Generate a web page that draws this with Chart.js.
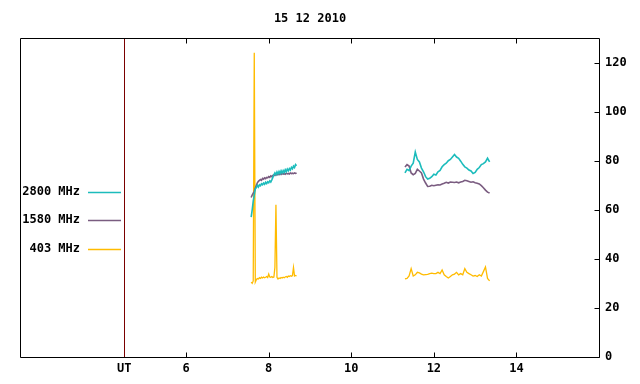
<!DOCTYPE html>
<html><head><meta charset="utf-8">
<script src="https://cdn.jsdelivr.net/npm/chart.js@4/dist/chart.umd.min.js"></script>
<style>html,body{margin:0;padding:0;background:#fff}</style>
</head><body>
<canvas id="c" width="640" height="384"></canvas>
<script>
// ---- data (hours UT, flux values) ----
const titleText = '15 12 2010';
const seriesLabels = ['2800 MHz', '1580 MHz', '403 MHz'];
const hourTicks = [6, 8, 10, 12, 14];
const utHour = 4.5;
const utLabel = 'UT';
const yTicks = [0, 20, 40, 60, 80, 100, 120];

const t1 = [7.575,7.600,7.625,7.650,7.675,7.700,7.725,7.750,7.775,7.800,7.825,7.850,7.875,7.900,7.925,7.950,7.975,8.000,8.025,8.050,8.075,8.100,8.125,8.150,8.175,8.200,8.225,8.250,8.275,8.300,8.325,8.350,8.375,8.400,8.425,8.450,8.475,8.500,8.525,8.550,8.575,8.600,8.625,8.650,8.675];
const t2 = [11.30,11.35,11.40,11.45,11.50,11.55,11.60,11.65,11.70,11.75,11.80,11.85,11.90,11.95,12.00,12.05,12.10,12.15,12.20,12.25,12.30,12.35,12.40,12.45,12.50,12.55,12.60,12.65,12.70,12.75,12.80,12.85,12.90,12.95,13.00,13.05,13.10,13.15,13.20,13.25,13.30,13.35];

const mhz2800a = [57,60,63.5,66,68.5,69,70,69.3,70.2,69.8,70.6,70.2,70.9,70.4,71.2,70.7,71.4,71,71.8,71.3,72.2,73.2,74.2,75,74.3,75.4,74.6,75.6,74.8,75.9,75,76,75.2,76.3,75.5,76.6,75.9,76.8,76.2,77.3,76.7,77.8,77.2,78.4,77.9];
const mhz2800b = [75,76.5,76,77.8,79,83.5,80.5,79.5,77,75.5,73.5,72.5,72.8,73.5,74.5,74.2,75.5,76,77.5,78.4,79,80,80.5,81.5,82.5,81.5,81,79.8,78.5,77.5,77,76.2,75.8,74.8,75.2,76.5,77.2,78.4,78.8,79.5,81,79.5];

const mhz1580a = [65,66,66.8,67.5,68.8,70,71,71.6,72,72.3,72,72.8,72.5,73,72.7,73.2,73,73.5,73.2,73.8,73.5,74,74.2,74,74.5,74.2,74.6,74.3,74.7,74.4,74.8,74.5,74.7,74.5,74.9,74.6,74.8,74.6,75,74.7,74.9,74.7,75,74.8,75];
const mhz1580b = [77.4,78.4,77.8,75,74.3,74.8,76.5,75.8,75,72.5,70.9,69.5,69.6,70,69.8,70,70.2,70.1,70.5,70.8,71.2,70.9,71.3,71.2,71.1,71.3,71,71.3,71.5,72,71.8,71.5,71.2,71.4,71,70.8,70.5,69.8,69,68,67.2,66.8];

const mhz403a = [30.5,30,31,124,30.5,31.5,32,31.8,32.3,32,32.5,32.2,32.6,32.3,32.5,32.8,32.4,33.8,32.6,32.5,32.8,32.4,32.6,36.5,62,32.5,31.8,32.2,32,32.4,32.2,32.5,32.3,32.6,32.8,32.5,33,32.8,33.1,32.9,33.2,36.5,33,33.2,33];
const mhz403b = [31.8,32,33,36,33,33.5,34.5,34.3,33.8,33.5,33.6,33.7,34,34.2,34,34,34.5,34,35.5,33.5,32.8,32.2,32.8,33.5,33.8,34.5,33.5,34,33.5,36,34.5,34,33.5,33,33.2,32.8,33.5,33,34.8,36.7,32,31];

const colors = ['#1cbcbc', '#7a5c80', '#ffbb00'];
const widths = [1.6, 1.6, 1.3];

// ---- build point lists (gap between the two observing runs) ----
function seg(times, vals) { return times.map((t, i) => ({x: t, y: vals[i]})); }
function joined(a, b) { return [...seg(t1, a), {x: 10, y: null}, ...seg(t2, b)]; }

const FONT = {family: "'DejaVu Sans Mono', 'Liberation Mono', monospace", size: 12, weight: 'bold'};
const FONT_CSS = "bold 12px 'DejaVu Sans Mono', 'Liberation Mono', monospace";

const framePlugin = {
  id: 'frame',
  afterDraw(chart) {
    const {ctx, chartArea: a, scales: {x, y}} = chart;
    ctx.save();
    ctx.lineWidth = 1;
    // UT marker line
    const ux = Math.round(x.getPixelForValue(utHour)) + 0.5;
    ctx.strokeStyle = '#7a0000';
    ctx.beginPath(); ctx.moveTo(ux, a.top); ctx.lineTo(ux, a.bottom); ctx.stroke();
    // frame
    ctx.strokeStyle = '#000';
    const L = a.left - 0.5, R = a.right + 0.5, T = a.top + 0.5, B = a.bottom + 0.5;
    ctx.beginPath();
    ctx.moveTo(L, T); ctx.lineTo(R, T); ctx.lineTo(R, B); ctx.lineTo(L, B); ctx.closePath();
    ctx.stroke();
    // inward ticks
    ctx.beginPath();
    hourTicks.forEach(v => {
      const px = Math.round(x.getPixelForValue(v)) + 0.5;
      ctx.moveTo(px, T); ctx.lineTo(px, T + 5);
      ctx.moveTo(px, B); ctx.lineTo(px, B - 5);
    });
    yTicks.forEach(v => {
      const py = Math.round(y.getPixelForValue(v)) + 0.5;
      ctx.moveTo(R, py); ctx.lineTo(R - 5, py);
    });
    ctx.stroke();
    // legend (left side, inside frame)
    const rows = [191.5, 219.5, 248.5];
    ctx.font = FONT_CSS;
    ctx.fillStyle = '#000';
    ctx.textAlign = 'right';
    ctx.textBaseline = 'middle';
    chart.data.datasets.forEach((ds, i) => {
      const yy = rows[i];
      ctx.fillText(ds.label, 80, yy);
      ctx.strokeStyle = ds.borderColor;
      ctx.lineWidth = 1.3;
      ctx.beginPath(); ctx.moveTo(88, Math.round(yy) + 0.5); ctx.lineTo(121, Math.round(yy) + 0.5); ctx.stroke();
    });
    ctx.restore();
  }
};

new Chart(document.getElementById('c'), {
  type: 'line',
  data: {
    datasets: [
      {label: seriesLabels[0], data: joined(mhz2800a, mhz2800b), borderColor: colors[0], borderWidth: widths[0]},
      {label: seriesLabels[1], data: joined(mhz1580a, mhz1580b), borderColor: colors[1], borderWidth: widths[1]},
      {label: seriesLabels[2], data: joined(mhz403a, mhz403b), borderColor: colors[2], borderWidth: widths[2]}
    ].map(d => Object.assign(d, {pointRadius: 0, fill: false, spanGaps: false, tension: 0}))
  },
  options: {
    responsive: false,
    animation: false,
    events: [],
    layout: {padding: {left: 21, right: 0, top: 0, bottom: 0}},
    plugins: {
      legend: {display: false},
      tooltip: {enabled: false},
      title: {
        display: true, text: titleText, fullSize: false, color: '#000',
        font: FONT, padding: {top: 12, bottom: 11.6}
      }
    },
    scales: {
      x: {
        type: 'linear', min: 2, max: 16,
        grid: {display: false, drawTicks: false}, border: {display: false},
        ticks: {
          font: FONT, color: '#000', padding: 5, maxRotation: 0, autoSkip: false,
          callback: v => (v === utHour ? utLabel : String(v))
        },
        afterBuildTicks: s => { s.ticks = [utHour, ...hourTicks].map(v => ({value: v})); },
        afterFit: s => { s.height = 27; }
      },
      y: {
        position: 'right', min: 0, max: 130,
        grid: {display: false, drawTicks: false}, border: {display: false},
        ticks: {font: FONT, color: '#000', padding: 6},
        afterBuildTicks: s => { s.ticks = yTicks.map(v => ({value: v})); },
        afterFit: s => { s.width = 41; }
      }
    }
  },
  plugins: [framePlugin]
});
</script>
</body></html>
